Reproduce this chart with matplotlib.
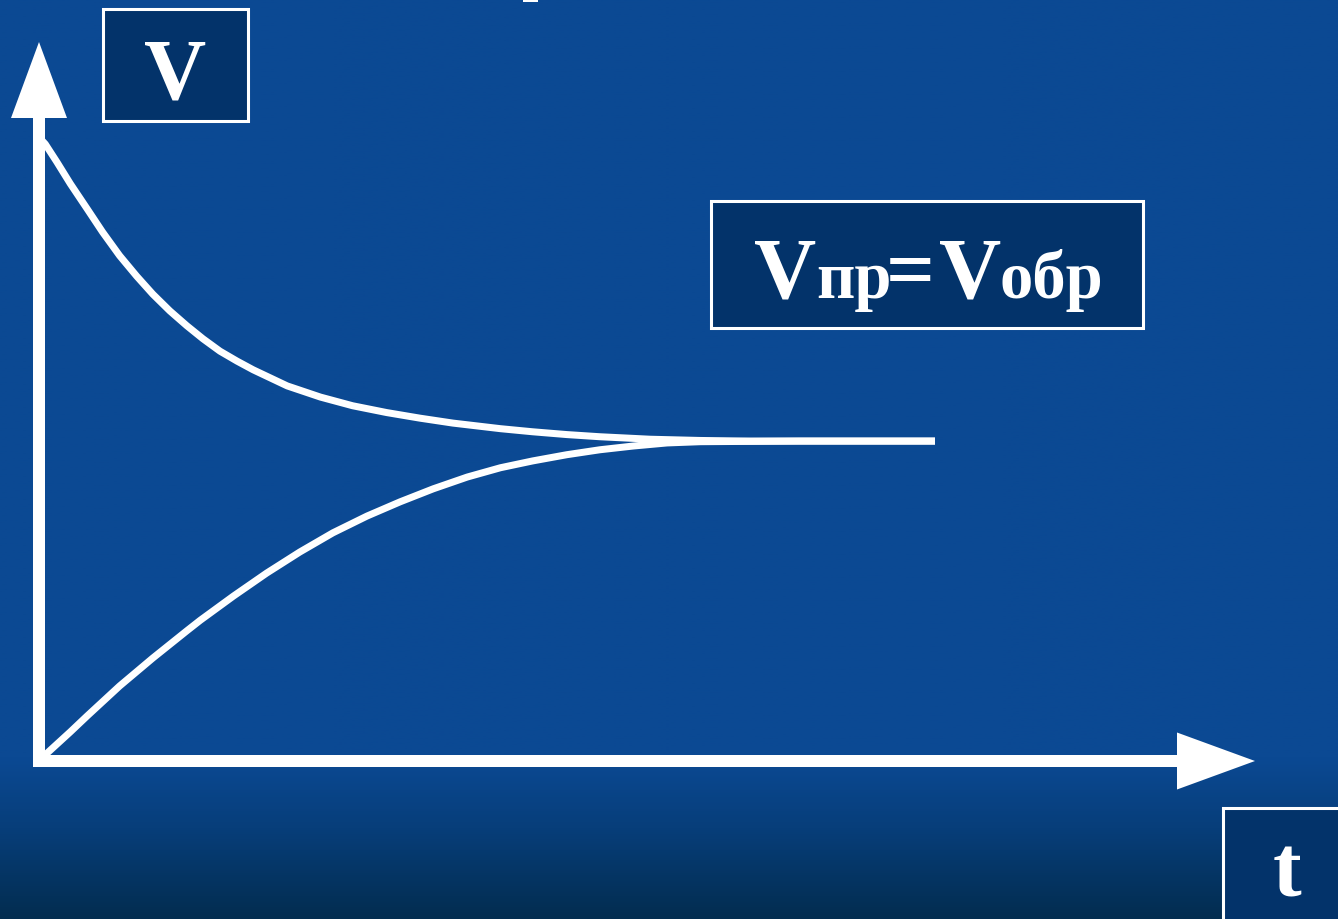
import numpy as np
import matplotlib
matplotlib.use("Agg")
import matplotlib.pyplot as plt
from matplotlib.patches import Rectangle, Polygon

# ---- data (time t, rate V) ----
t_forward = [0.0, 0.07, 0.20, 0.35, 0.54, 0.71, 0.90, 1.09, 1.27, 1.46, 1.65, 1.83, 2.02,
             2.21, 2.39, 2.77, 3.14, 3.50, 3.88, 4.25, 4.62, 5.15, 5.51, 5.89, 6.26, 6.82,
             7.38, 7.94, 10.0]
v_forward = [10.06, 9.95, 9.66, 9.31, 8.90, 8.53, 8.15, 7.82, 7.53, 7.26, 7.02, 6.81, 6.61,
             6.45, 6.31, 6.05, 5.87, 5.73, 5.62, 5.53, 5.45, 5.36, 5.31, 5.265, 5.23, 5.19,
             5.17, 5.16, 5.16]

t_reverse = [0.0, 0.07, 0.35, 0.54, 0.90, 1.27, 1.65, 1.80, 2.17, 2.54, 2.91, 3.28, 3.66,
             4.03, 4.40, 4.78, 5.15, 5.51, 5.89, 6.26, 6.63, 7.01, 7.38, 8.49, 10.0]
v_reverse = [0.0, 0.10, 0.47, 0.73, 1.21, 1.66, 2.10, 2.27, 2.66, 3.03, 3.37, 3.68, 3.95,
             4.18, 4.39, 4.58, 4.73, 4.84, 4.94, 5.02, 5.08, 5.13, 5.15, 5.16, 5.16]

y_label = "V"
x_label = "t"
eq_parts = ["V", "пр", "=", "V", "обр"]   # reads "Vпр=Vобр"

# ---- layout helpers (figure pixels -> data) ----
W, H = 1338, 920
OX, OY = 39, 762          # origin in pixels
SX, SY = 89.6, 62.0       # pixels per unit


def px(x, y):
    return ((x - OX) / SX, (OY - y) / SY)


fig = plt.figure(figsize=(W / 100, H / 100), dpi=100)
ax = fig.add_axes([0, 0, 1, 1])
x0, y0 = px(0, H)
x1, y1 = px(W, 0)
ax.set_xlim(x0, x1)
ax.set_ylim(y0, y1)
ax.axis("off")

# background: blue with darker band at the bottom
rows = np.linspace(0, 1, 400)
top = np.array([0x0b, 0x49, 0x93]) / 255
mid = np.array([0x07, 0x3e, 0x7a]) / 255
bot = np.array([0x03, 0x2d, 0x50]) / 255
img = np.zeros((400, 2, 3))
for i, r in enumerate(rows):
    yp = r * H
    if yp < 760:
        c = top
    elif yp < 830:
        f = (yp - 760) / 70
        c = top * (1 - f) + mid * f
    else:
        f = (yp - 830) / 90
        c = mid * (1 - f) + bot * f
    img[i, :, :] = c
ax.imshow(img, extent=[x0, x1, y0, y1], origin="upper", aspect="auto", zorder=0)

white = "white"
box_face = "#03336a"

# axes arrows
lw_axis = 12 * 72 / 100
yb = px(0, 119)[1]
ytip = px(0, 43)[1]
xb = px(1177, 0)[0]
xtip = px(1255, 0)[0]
ax.plot([0, 0], [px(0, 768)[1], yb], color=white, lw=lw_axis, solid_capstyle="butt", zorder=3)
ax.plot([0, xb], [0, 0], color=white, lw=lw_axis, solid_capstyle="butt", zorder=3)
hw_x = 28 / SX
hw_y = 28.5 / SY
ax.add_patch(Polygon([(-hw_x, yb), (hw_x, yb), (0, ytip)], closed=True, facecolor=white, edgecolor="none", zorder=3))
ax.add_patch(Polygon([(xb, -hw_y), (xb, hw_y), (xtip, 0)], closed=True, facecolor=white, edgecolor="none", zorder=3))

# curves
lw_curve = 7 * 72 / 100
ax.plot(t_forward, v_forward, color=white, lw=lw_curve, solid_joinstyle="round", solid_capstyle="butt", zorder=4)
ax.plot(t_reverse, v_reverse, color=white, lw=lw_curve, solid_joinstyle="round", solid_capstyle="butt", zorder=4)


def box(xa, ya, xb_, yb_):
    (dx0, dy1) = px(xa, ya)
    (dx1, dy0) = px(xb_, yb_)
    ax.add_patch(Rectangle((dx0, dy0), dx1 - dx0, dy1 - dy0, facecolor=box_face,
                           edgecolor=white, lw=2.2, zorder=5))


font = dict(family=["Liberation Serif", "DejaVu Serif"], weight="bold", color=white, zorder=6)

box(103, 10, 248, 122)
ax.text(*px(175, 98), y_label, ha="center", va="baseline", fontsize=62, **font)

box(711, 202, 1143, 329)
part_left = [754, 816, 886, 939, 1000]
part_size = [62, 48, 62, 62, 48]
for s, xl, fs in zip(eq_parts, part_left, part_size):
    ax.text(*px(xl, 298), s, ha="left", va="baseline", fontsize=fs, **font)

box(1223, 809, 1345, 925)
ax.text(*px(1287, 897), x_label, ha="center", va="baseline", fontsize=62, **font)

# cut-off glyph of the slide title at the top edge
(gx0, gy1) = px(523, 0)
(gx1, gy0) = px(538, 3)
ax.add_patch(Rectangle((gx0, gy0), gx1 - gx0, gy1 - gy0, facecolor=white, edgecolor="none", zorder=5))

fig.savefig("out.png", dpi=100)
